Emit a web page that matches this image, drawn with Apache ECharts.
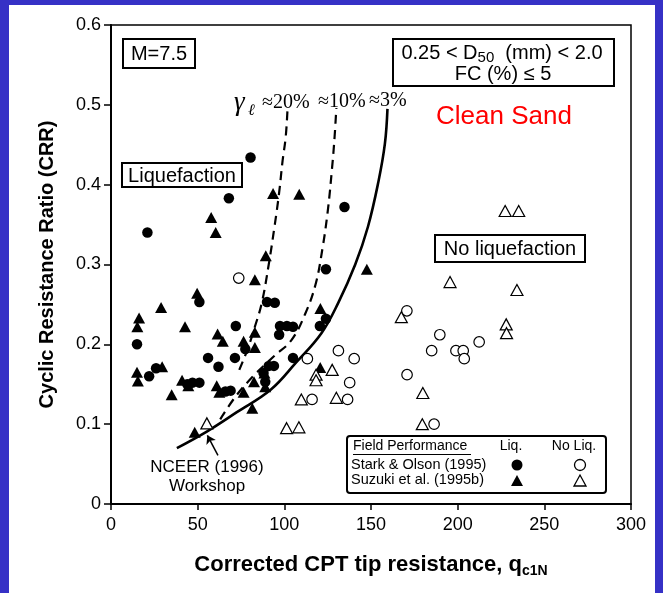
<!DOCTYPE html>
<html>
<head>
<meta charset="utf-8">
<script src="https://cdn.jsdelivr.net/npm/echarts@6/dist/echarts.min.js"></script>
<style>
html,body{margin:0;padding:0;}
#wrap{position:relative;width:663px;height:593px;background:#3631c6;overflow:hidden;}
#panel{position:absolute;left:9px;top:5px;width:646px;height:588px;background:#fff;}
#chart{position:absolute;left:0;top:0;width:663px;height:593px;}
</style>
</head>
<body>
<div id="wrap"><div id="panel"></div><div id="chart"></div></div>
<script>
// ---- data ----
const xTicks = [0, 50, 100, 150, 200, 250, 300];
const yTicks = [0, 0.1, 0.2, 0.3, 0.4, 0.5, 0.6];

// Stark & Olson (1995) - liquefaction (filled circles)
const starkLiq = [
  [15,0.20],[21,0.34],[22,0.16],[26,0.17],[44,0.15],[47,0.152],[51,0.152],[51,0.253],
  [56,0.183],[62,0.172],[66,0.141],[69,0.142],[68,0.383],[71.5,0.183],[72,0.223],[77.5,0.194],
  [80.5,0.434],[89,0.153],[88,0.164],[91,0.173],[94,0.173],[90,0.253],[94.5,0.252],[97,0.212],
  [97.5,0.223],[101.5,0.223],[105,0.222],[105,0.183],[120.5,0.223],[124,0.232],[124,0.294],[134.7,0.372]
];
// Stark & Olson (1995) - no liquefaction (open circles)
const starkNoLiq = [
  [73.7,0.283],[113.3,0.182],[116,0.131],[131.2,0.192],[136.5,0.131],[137.7,0.152],[140.3,0.182],
  [170.7,0.242],[170.8,0.162],[185,0.192],[186.4,0.100],[189.7,0.212],[199,0.192],[203.2,0.192],
  [203.8,0.182],[212.4,0.203]
];
// Suzuki et al. (1995b) - liquefaction (filled triangles)
const suzukiLiq = [
  [15.2,0.222],[16.2,0.233],[15,0.165],[15.5,0.154],[29.5,0.172],[28.9,0.246],[35,0.137],[41,0.155],
  [44.6,0.148],[42.7,0.222],[48.3,0.090],[49.7,0.264],[57.8,0.359],[60.4,0.340],[61.5,0.213],[64.5,0.204],
  [61,0.148],[62.5,0.140],[76.5,0.204],[76.5,0.140],[81.5,0.120],[83,0.196],[82.5,0.153],[83,0.215],
  [83,0.281],[88.5,0.164],[89,0.147],[89.3,0.311],[93.5,0.389],[108.6,0.388],[120.7,0.171],[120.8,0.245],
  [147.6,0.294]
];
// Suzuki et al. (1995b) - no liquefaction (open triangles)
const suzukiNoLiq = [
  [55.3,0.101],[101.3,0.095],[108.4,0.096],[109.8,0.131],[118.3,0.162],[118.3,0.155],[127.6,0.168],
  [130,0.133],[167.5,0.234],[179.9,0.139],[179.6,0.100],[195.6,0.278],[228,0.225],[228.2,0.214],
  [234.2,0.268],[227.4,0.367],[235.2,0.367]
];
// Boundary curves (gamma_l ~ 3% = NCEER 1996 workshop, 10%, 20%)
const curve3 = [
  [38,0.070],[55.5,0.091],[72.6,0.115],[92.1,0.143],[106.7,0.177],[121.4,0.214],[131.1,0.252],
  [140.9,0.300],[148.2,0.347],[154.3,0.404],[158,0.451],[159.5,0.495]
];
const curve10 = [
  [63,0.106],[72,0.135],[82,0.160],[94,0.185],[104,0.205],[112,0.238],[118,0.275],[122,0.32],
  [125,0.366],[127.5,0.42],[129,0.46],[130,0.496]
];
const curve20 = [
  [74,0.168],[79,0.195],[83,0.222],[87,0.252],[91,0.300],[94.5,0.35],[97,0.39],[99,0.43],
  [100.8,0.46],[101.8,0.493]
];
// NCEER arrow (from label to curve)
const nceerArrow = [[61.7,0.061],[55.6,0.086]];

// ---- chart ----
const chart = echarts.init(document.getElementById('chart'), null, {renderer:'canvas'});
const FONT = 'Liberation Sans, Arial, sans-serif';
const SERIF = 'Liberation Serif, Times New Roman, serif';

function boxText(x, y, w, h, text, size) {
  return [{
    type:'rect', shape:{x:x, y:y, width:w, height:h},
    style:{fill:'#fff', stroke:'#000', lineWidth:2}, z:10
  }, {
    type:'text', x:x + w/2, y:y + h/2 + 1, z:11,
    style:{text:text, fill:'#000', font:size+'px '+FONT, align:'center', verticalAlign:'middle'}
  }];
}

const graphics = [].concat(
  boxText(123, 39, 72, 29, 'M=7.5', 20),
  boxText(122, 163, 120, 24, 'Liquefaction', 20),
  boxText(435, 235, 150, 27, 'No liquefaction', 20),
  [
    {type:'rect', shape:{x:393, y:39, width:221, height:47}, style:{fill:'#fff', stroke:'#000', lineWidth:2}, z:10},
    {type:'text', x:502, y:53, z:11, style:{text:'0.25 < D{s|50}  (mm) < 2.0', rich:{s:{fontSize:15, fontFamily:FONT, padding:[9,0,0,0]}}, fill:'#000', font:'20px '+FONT, align:'center', verticalAlign:'middle'}},
    {type:'text', x:503, y:74, z:11, style:{text:'FC (%) ≤ 5', fill:'#000', font:'20px '+FONT, align:'center', verticalAlign:'middle'}},
    {type:'text', x:504, y:117, z:11, style:{text:'Clean Sand', fill:'#ff0000', font:'26px '+FONT, align:'center', verticalAlign:'middle'}},
    // gamma labels
    {type:'text', x:234, y:103, z:11, style:{text:'γ', fill:'#000', font:'italic 27px '+SERIF, align:'left', verticalAlign:'middle'}},
    {type:'text', x:248, y:111, z:11, style:{text:'ℓ', fill:'#000', font:'italic 16px '+SERIF, align:'left', verticalAlign:'middle'}},
    {type:'text', x:262, y:103, z:11, style:{text:'≈20%', fill:'#000', font:'20px '+SERIF, align:'left', verticalAlign:'middle'}},
    {type:'text', x:318, y:102, z:11, style:{text:'≈10%', fill:'#000', font:'20px '+SERIF, align:'left', verticalAlign:'middle'}},
    {type:'text', x:369, y:101, z:11, style:{text:'≈3%', fill:'#000', font:'20px '+SERIF, align:'left', verticalAlign:'middle'}},
    // NCEER label
    {type:'text', x:207, y:467, z:11, style:{text:'NCEER (1996)', fill:'#000', font:'17px '+FONT, align:'center', verticalAlign:'middle'}},
    {type:'text', x:207, y:486, z:11, style:{text:'Workshop', fill:'#000', font:'17px '+FONT, align:'center', verticalAlign:'middle'}},
    // legend box
    {type:'rect', shape:{x:347, y:436, width:259, height:57, r:3}, style:{fill:'#fff', stroke:'#000', lineWidth:2}, z:10},
    {type:'text', x:353, y:446, z:11, style:{text:'Field Performance', fill:'#000', font:'14px '+FONT, align:'left', verticalAlign:'middle'}},
    {type:'line', shape:{x1:353, y1:454.5, x2:471, y2:454.5}, style:{stroke:'#000', lineWidth:1}, z:11},
    {type:'text', x:511, y:446, z:11, style:{text:'Liq.', fill:'#000', font:'14px '+FONT, align:'center', verticalAlign:'middle'}},
    {type:'text', x:574, y:446, z:11, style:{text:'No Liq.', fill:'#000', font:'14px '+FONT, align:'center', verticalAlign:'middle'}},
    {type:'text', x:351, y:465, z:11, style:{text:'Stark & Olson (1995)', fill:'#000', font:'14.5px '+FONT, align:'left', verticalAlign:'middle'}},
    {type:'text', x:351, y:480, z:11, style:{text:'Suzuki et al. (1995b)', fill:'#000', font:'14.5px '+FONT, align:'left', verticalAlign:'middle'}},
    {type:'circle', shape:{cx:517, cy:465, r:5.5}, style:{fill:'#000'}, z:11},
    {type:'circle', shape:{cx:580, cy:465, r:5.5}, style:{fill:'#fff', stroke:'#000', lineWidth:1.3}, z:11},
    {type:'polygon', shape:{points:[[511,486],[523,486],[517,475]]}, style:{fill:'#000'}, z:11},
    {type:'polygon', shape:{points:[[574,486],[586,486],[580,475]]}, style:{fill:'#fff', stroke:'#000', lineWidth:1.3}, z:11}
  ]
);

function scatter(name, data, symbol, filled) {
  return {
    name: name, type:'scatter', data:data, symbol:symbol,
    symbolSize: symbol === 'triangle' ? [12, 11] : 10.5,
    itemStyle: filled ? {color:'#000', opacity:1} : {color:'#fff', borderColor:'#000', borderWidth:1.2, opacity:1},
    z: 5
  };
}

const option = {
  animation:false,
  backgroundColor:'transparent',
  grid:{left:111, right:32, top:25, bottom:89, show:true, borderColor:'#000', borderWidth:1.5, backgroundColor:'transparent'},
  xAxis:{
    type:'value', min:xTicks[0], max:xTicks[xTicks.length-1], interval:xTicks[1]-xTicks[0],
    name:'{a|Corrected CPT tip resistance, q}{s|c1N}', nameLocation:'middle', nameGap:48,
    nameTextStyle:{rich:{
      a:{fontFamily:FONT, fontWeight:'bold', fontSize:22, color:'#000'},
      s:{fontFamily:FONT, fontWeight:'bold', fontSize:14, color:'#000', padding:[12,0,0,0]}
    }},
    axisLine:{show:true, onZero:false, lineStyle:{color:'#000', width:2}},
    axisTick:{show:true, length:6, lineStyle:{color:'#000', width:1.5}},
    axisLabel:{color:'#000', fontFamily:FONT, fontSize:18, margin:12},
    splitLine:{show:false}
  },
  yAxis:{
    type:'value', min:yTicks[0], max:yTicks[yTicks.length-1], interval:0.1,
    name:'Cyclic Resistance Ratio (CRR)', nameLocation:'middle', nameGap:54,
    nameTextStyle:{fontFamily:FONT, fontWeight:'bold', fontSize:20, color:'#000'},
    axisLine:{show:true, onZero:false, lineStyle:{color:'#000', width:2}},
    axisTick:{show:true, length:7, lineStyle:{color:'#000', width:1.5}},
    axisLabel:{color:'#000', fontFamily:FONT, fontSize:18, margin:10},
    splitLine:{show:false}
  },
  series:[
    {
      name:'NCEER', type:'line', data:curve3, smooth:0.4, symbol:'none',
      lineStyle:{color:'#000', width:2.6}, z:3,
      markLine:{
        silent:true, symbol:['none','arrow'], symbolSize:8,
        lineStyle:{color:'#000', width:1.5, type:'solid'}, label:{show:false},
        data:[[{coord:nceerArrow[0]},{coord:nceerArrow[1]}]]
      }
    },
    {name:'10%', type:'line', data:curve10, smooth:0.4, symbol:'none', lineStyle:{color:'#000', width:2.2, type:[9,6]}, z:3},
    {name:'20%', type:'line', data:curve20, smooth:0.4, symbol:'none', lineStyle:{color:'#000', width:2.2, type:[9,6]}, z:3},
    scatter('Stark Liq', starkLiq, 'circle', true),
    scatter('Stark NoLiq', starkNoLiq, 'circle', false),
    scatter('Suzuki Liq', suzukiLiq, 'triangle', true),
    scatter('Suzuki NoLiq', suzukiNoLiq, 'triangle', false)
  ],
  graphic: graphics
};
chart.setOption(option);
</script>
</body>
</html>
